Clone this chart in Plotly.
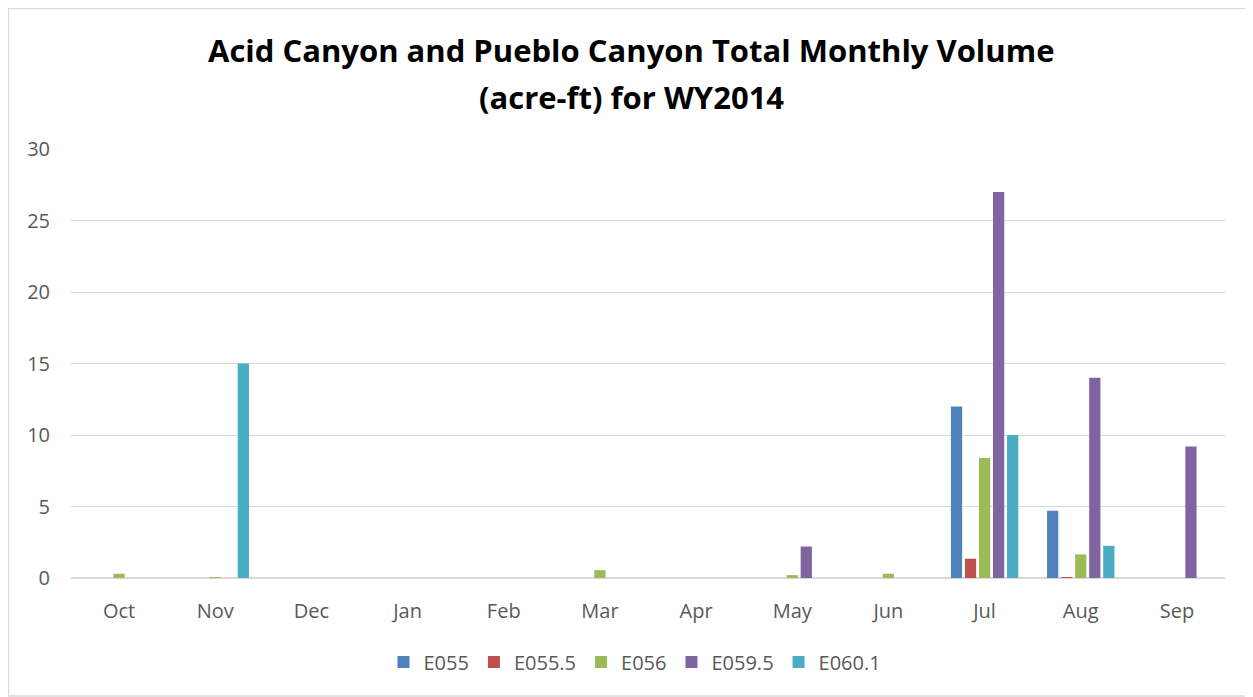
import plotly.graph_objects as go

months = ["Oct", "Nov", "Dec", "Jan", "Feb", "Mar", "Apr", "May", "Jun", "Jul", "Aug", "Sep"]
e055 = [0, 0, 0, 0, 0, 0, 0, 0, 0, 12.0, 4.7, 0]
e055_5 = [0, 0, 0, 0, 0, 0, 0, 0, 0, 1.35, 0.05, 0]
e056 = [0.3, 0.05, 0, 0, 0, 0.55, 0, 0.2, 0.3, 8.4, 1.65, 0]
e059_5 = [0, 0, 0, 0, 0, 0, 0, 2.2, 0, 27.0, 14.0, 9.2]
e060_1 = [0, 15.0, 0, 0, 0, 0, 0, 0, 0, 10.0, 2.25, 0]

series = [
    ("E055", e055, "#4F81BD"),
    ("E055.5", e055_5, "#C0504D"),
    ("E056", e056, "#9BBB59"),
    ("E059.5", e059_5, "#8064A2"),
    ("E060.1", e060_1, "#4BACC6"),
]

font_family = "Open Sans, Liberation Sans, sans-serif"

fig = go.Figure()
for name, vals, color in series:
    fig.add_trace(go.Bar(
        x=months, y=vals, name=name,
        marker=dict(color=color, line=dict(width=0)),
    ))

# page body has an 8px margin: screen coords = figure coords + 8
OFF = 8
W, H = 1253 - OFF, 697 - OFF
L = 71 - OFF
T = 149 - OFF
R = W - (1225 - OFF)
B = H - (578 - OFF)
pw, ph = W - L - R, H - T - B

def px_x(sx):
    return (sx - OFF - L) / pw

def px_y(sy):
    return (H - B - (sy - OFF)) / ph

title_font = dict(family=font_family, size=31, color="black", weight="bold")

fig.update_layout(
    width=W, height=H,
    margin=dict(l=L, r=R, t=T, b=B),
    paper_bgcolor="white", plot_bgcolor="white",
    barmode="group", bargap=0.27, bargroupgap=0.2,
    font=dict(family=font_family, color="#595959", size=20),
    xaxis=dict(showgrid=False, showline=False, ticks="", ticklabelstandoff=19,
               tickfont=dict(size=20, color="#595959")),
    yaxis=dict(
        range=[0, 30], tickvals=[0, 5, 10, 15, 20, 25, 30],
        showgrid=True, gridcolor="#D9D9D9", gridwidth=1.3,
        zeroline=True, zerolinecolor="#D9D9D9", zerolinewidth=2,
        showline=False, ticks="", ticklabelstandoff=20,
        tickfont=dict(size=20, color="#595959"),
    ),
    legend=dict(
        orientation="h", x=px_x(635), xanchor="center", y=px_y(662), yanchor="middle",
        font=dict(size=20, color="#595959"), itemwidth=30, traceorder="normal",
    ),
    annotations=[
        dict(text="Acid Canyon and Pueblo Canyon Total Monthly Volume", xref="paper", yref="paper",
             x=px_x(631), y=px_y(50), xanchor="center", yanchor="middle", showarrow=False, font=title_font),
        dict(text="(acre-ft) for WY2014", xref="paper", yref="paper",
             x=px_x(631), y=px_y(97), xanchor="center", yanchor="middle", showarrow=False, font=title_font),
    ],
    shapes=[dict(
        type="rect", xref="paper", yref="paper",
        x0=px_x(8.5), x1=px_x(1246.5), y0=px_y(696), y1=px_y(8.5),
        line=dict(color="#D9D9D9", width=1.3), fillcolor="rgba(0,0,0,0)", layer="below",
    )],
)

fig.write_html("out.html")
